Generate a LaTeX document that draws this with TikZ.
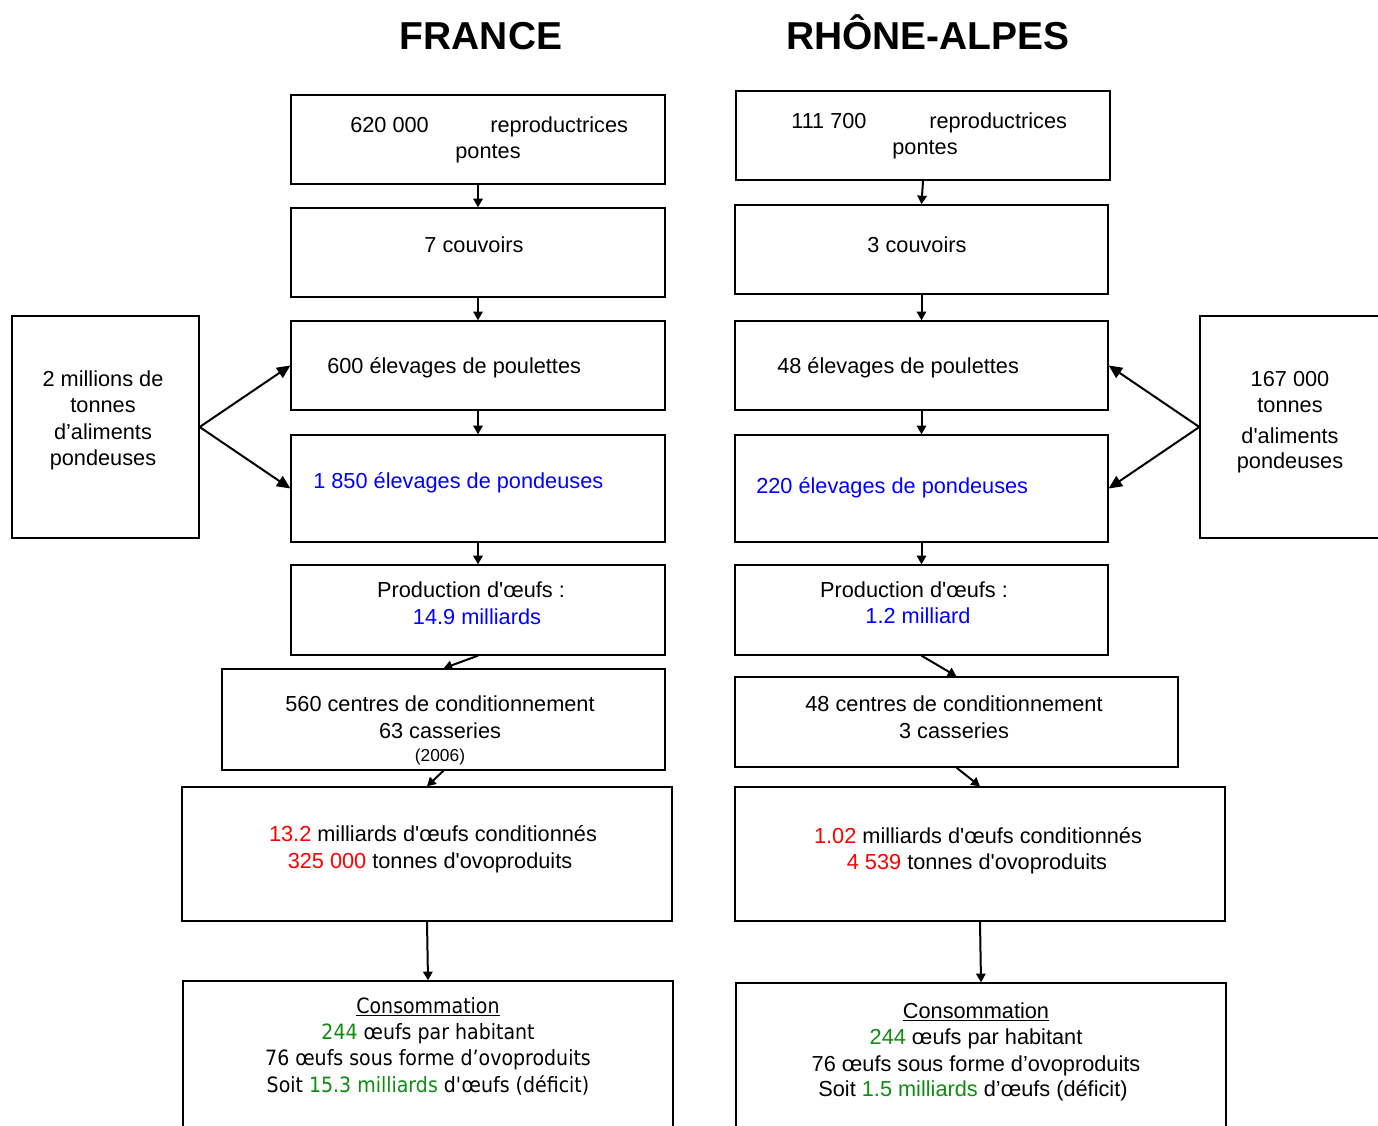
\documentclass[tikz,border=0pt]{standalone}
\usepackage{fontspec}
\setmainfont{Liberation Sans}
\newfontfamily\tahfont[FakeStretch=0.9]{DejaVu Sans}
\usetikzlibrary{fit,arrows.meta}
\definecolor{myblue}{RGB}{0,0,255}
\definecolor{myred}{RGB}{255,0,0}
\definecolor{mygreen}{RGB}{16,140,16}
\newcommand\sq{\textquotesingle}
\tikzset{
  box/.style={draw=black, line width=1pt, inner sep=0pt, rectangle},
  txt/.style={inner sep=0pt, anchor=base, yshift=-1.1pt, font=\fontsize{16.3pt}{20pt}\selectfont},
  txtl/.style={txt, anchor=base west},
  small/.style={inner sep=0pt, anchor=base, yshift=-1.1pt, font=\fontsize{13pt}{16pt}\selectfont},
  tah/.style={inner sep=0pt, anchor=base, yshift=-0.8pt, font=\tahfont\fontsize{15.8pt}{20pt}\selectfont},
  ttl/.style={inner sep=0pt, anchor=base, font=\bfseries\fontsize{29.2pt}{34pt}\selectfont},
  arr/.style={line width=1.5pt, -{Triangle[length=6.5pt,width=7pt]}},
  sarr/.style={line width=1.5pt, -{Triangle[length=10pt,width=9pt]}},
}
\begin{document}
\begin{tikzpicture}[x=0.75pt,y=-0.75pt]
\useasboundingbox (0,0) rectangle (1378,1126);
\fill[white] (0,0) rectangle (1378,1126);

% titles
\node[ttl] (tf) at (481,50) {FRANCE};
\node[ttl] (tr) at (928,50) {RHÔNE-ALPES};

% ---------- FRANCE column
\node[box, fit={(291,95)(665,184)}] (f1) {};
\node[box, fit={(291,208)(665,297)}] (f2) {};
\node[box, fit={(291,321)(665,410)}] (f3) {};
\node[box, fit={(291,435)(665,542)}] (f4) {};
\node[box, fit={(291,565)(665,655)}] (f5) {};
\node[box, fit={(222,669)(665,770)}] (f6) {};
\node[box, fit={(182,787)(672,921)}] (f7) {};
\node[box, fit={(183,981)(673,1150)}] (f8) {};
\node[box, fit={(12,316)(199,538)}] (fs) {};

\node[txtl] (f1a) at (350,131) {620 000};
\node[txtl] (f1b) at (490,131) {reproductrices};
\node[txt] (f1c) at (488,157) {pontes};
\node[txt] (f2a) at (474,251) {7 couvoirs};
\node[txtl] (f3a) at (327,372) {600 élevages de poulettes};
\node[txtl, text=myblue] (f4a) at (313,487) {1 850 élevages de pondeuses};
\node[txt] (f5a) at (471,596) {Production d\sq{}œufs :};
\node[txt, text=myblue] (f5b) at (477,623) {14.9 milliards};
\node[txt] (f6a) at (440,710) {560 centres de conditionnement};
\node[txt] (f6b) at (440,737) {63 casseries};
\node[small] (f6c) at (440,760) {(2006)};
\node[txt] (f7a) at (433,840) {\textcolor{myred}{13.2} milliards d\sq{}œufs conditionnés};
\node[txt] (f7b) at (430,867) {\textcolor{myred}{325 000} tonnes d\sq{}ovoproduits};
\node[tah] (f8a) at (428,1012) {\underline{Consommation}};
\node[tah] (f8b) at (428,1038) {\textcolor{mygreen}{244} œufs par habitant};
\node[tah] (f8c) at (428,1064) {76 œufs sous forme d’ovoproduits};
\node[tah] (f8d) at (428,1091) {Soit \textcolor{mygreen}{15.3 milliards} d\sq{}œufs (déficit)};
\node[txt] (fsa) at (103,385) {2 millions de};
\node[txt] (fsb) at (103,411) {tonnes};
\node[txt] (fsc) at (103,438) {d’aliments};
\node[txt] (fsd) at (103,464) {pondeuses};

\draw[arr] (f1.south) -- (f2.north);
\draw[arr] (f2.south) -- (f3.north);
\draw[arr] (f3.south) -- (f4.north);
\draw[arr] (f4.south) -- (f5.north);
\draw[arr] (f5.south) -- (f6.north);
\draw[arr] (f6.south) -- (f7.north);
\draw[arr] (f7.south) -- (f8.north);
\draw[sarr] (fs.east) -- (f3.west);
\draw[sarr] (fs.east) -- (f4.west);

% ---------- RHONE-ALPES column
\node[box, fit={(736,91)(1110,180)}] (r1) {};
\node[box, fit={(735,205)(1108,294)}] (r2) {};
\node[box, fit={(735,321)(1108,410)}] (r3) {};
\node[box, fit={(735,435)(1108,542)}] (r4) {};
\node[box, fit={(735,565)(1108,655)}] (r5) {};
\node[box, fit={(735,677)(1178,767)}] (r6) {};
\node[box, fit={(735,787)(1225,921)}] (r7) {};
\node[box, fit={(736,983)(1226,1150)}] (r8) {};
\node[box, fit={(1200,316)(1400,538)}] (rs) {};

\node[txtl] (r1a) at (791,127) {111 700};
\node[txtl] (r1b) at (929,127) {reproductrices};
\node[txt] (r1c) at (925,153) {pontes};
\node[txt] (r2a) at (917,251) {3 couvoirs};
\node[txtl] (r3a) at (777,372) {48 élevages de poulettes};
\node[txtl, text=myblue] (r4a) at (756,492) {220 élevages de pondeuses};
\node[txt] (r5a) at (914,596) {Production d\sq{}œufs :};
\node[txt, text=myblue] (r5b) at (918,622) {1.2 milliard};
\node[txt] (r6a) at (954,710) {48 centres de conditionnement};
\node[txt] (r6b) at (954,737) {3 casseries};
\node[txt] (r7a) at (978,842) {\textcolor{myred}{1.02} milliards d\sq{}œufs conditionnés};
\node[txt] (r7b) at (977,868) {\textcolor{myred}{4 539} tonnes d\sq{}ovoproduits};
\node[txt] (r8a) at (976,1017) {\underline{Consommation}};
\node[txt] (r8b) at (976,1043) {\textcolor{mygreen}{244} œufs par habitant};
\node[txt] (r8c) at (976,1070) {76 œufs sous forme d’ovoproduits};
\node[txt] (r8d) at (973,1095) {Soit \textcolor{mygreen}{1.5 milliards} d’œufs (déficit)};
\node[txt] (rsa) at (1290,385) {167 000};
\node[txt] (rsb) at (1290,411) {tonnes};
\node[txt] (rsc) at (1290,442) {d\sq{}aliments};
\node[txt] (rsd) at (1290,467) {pondeuses};

\draw[arr] (r1.south) -- (r2.north);
\draw[arr] (r2.south) -- (r3.north);
\draw[arr] (r3.south) -- (r4.north);
\draw[arr] (r4.south) -- (r5.north);
\draw[arr] (r5.south) -- (r6.north);
\draw[arr] (r6.south) -- (r7.north);
\draw[arr] (r7.south) -- (r8.north);
\draw[sarr] (rs.west) -- (r3.east);
\draw[sarr] (rs.west) -- (r4.east);
\end{tikzpicture}
\end{document}
